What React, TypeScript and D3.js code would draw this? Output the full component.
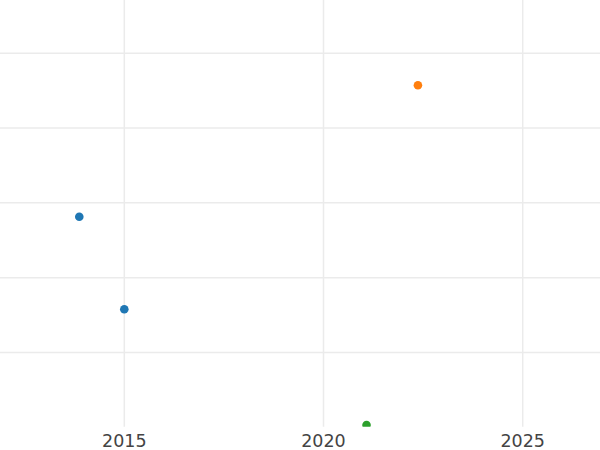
import React from "react";
import * as d3 from "d3";

const years = [2013.87, 2015.0, 2022.37, 2021.08];
const values = [28.15, 15.78, 45.71, 0.33];
const series = ["A", "A", "B", "C"];
const seriesNames = ["A", "B", "C"];
const seriesColors = ["#1f77b4", "#ff7f0e", "#2ca02c"];
const xTicks = [2015, 2020, 2025];
const yTicks = [10, 20, 30, 40, 50];

const W = 600;
const H = 450;
const plotBottom = 426.7;

export default function App() {
  const x = d3.scaleLinear().domain([2011.88, 2026.94]).range([0, W]);
  const y = d3.scaleLinear().domain([0.1, 57.1]).range([plotBottom, 0]);
  const color = d3.scaleOrdinal<string, string>().domain(seriesNames).range(seriesColors);

  return (
    <svg
      width={W}
      height={H}
      style={{ position: "absolute", left: 0, top: 0, background: "#fff" }}
      fontFamily="DejaVu Sans, sans-serif"
    >
      <defs>
        <clipPath id="plot">
          <rect x={0} y={0} width={W} height={plotBottom} />
        </clipPath>
      </defs>
      <g>
        {xTicks.map((t) => (
          <line key={"gx" + t} x1={x(t)} x2={x(t)} y1={0} y2={plotBottom} stroke="#ebebeb" strokeWidth={1.5} />
        ))}
        {yTicks.map((t) => (
          <line key={"gy" + t} x1={0} x2={W} y1={y(t)} y2={y(t)} stroke="#ebebeb" strokeWidth={1.5} />
        ))}
      </g>
      <g clipPath="url(#plot)">
        {years.map((yr, i) => (
          <circle key={i} cx={x(yr)} cy={y(values[i])} r={4.3} fill={color(series[i])} />
        ))}
      </g>
      <g>
        {xTicks.map((t) => (
          <text key={"tx" + t} x={x(t)} y={447} textAnchor="middle" fontSize={17.5} fill="#444">
            {t}
          </text>
        ))}
      </g>
    </svg>
  );
}
